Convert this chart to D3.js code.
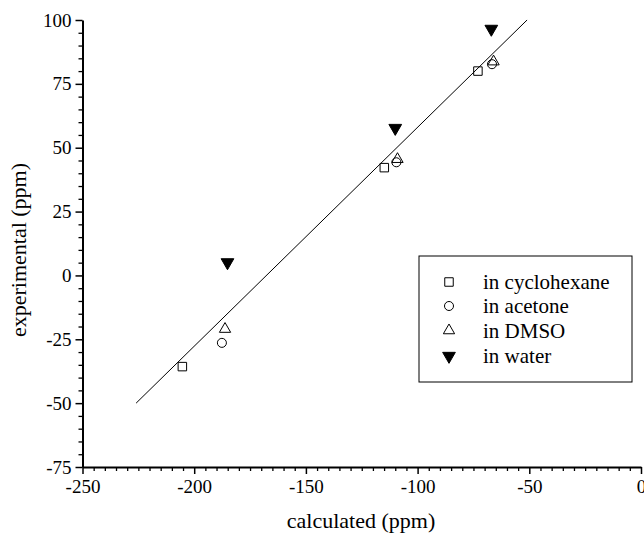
<!DOCTYPE html>
<html><head><meta charset="utf-8">
<script src="https://cdn.jsdelivr.net/npm/d3@7"></script>
<style>body{margin:0;background:#fff}svg{display:block}</style>
</head><body><svg id="c" width="644" height="535"></svg>
<script>
const xTicks = [-250, -200, -150, -100, -50, 0];
const yTicks = [-75, -50, -25, 0, 25, 50, 75, 100];
const seriesNames = ["in cyclohexane", "in acetone", "in DMSO", "in water"];
const cycloCalc = [-205.3, -114.9, -73.0];
const cycloExp = [-35.7, 42.2, 80.0];
const acetCalc = [-187.6, -109.5, -66.7];
const acetExp = [-26.4, 44.3, 82.7];
const dmsoCalc = [-186.2, -109.0, -66.0];
const dmsoExp = [-21.0, 45.5, 83.7];
const waterCalc = [-185.1, -110.0, -67.0];
const waterExp = [5.1, 57.7, 96.5];
const fitX = [-226, -51];
const fitY = [-50, 100];

const FONT = '"Liberation Serif", Tinos, "Times New Roman", "DejaVu Serif", serif';
const svg = d3.select("#c");
const x = d3.scaleLinear().domain([-250, 0]).range([82.5, 641]);
const y = d3.scaleLinear().domain([-75, 100]).range([467, 20]);

const xMinor = d3.range(-250, 0.1, 5).filter(v => v % 50 !== 0);
const yMinor = d3.range(-75, 100.1, 5).filter(v => v % 25 !== 0);
svg.append("g").attr("transform", "translate(0,467)")
  .call(d3.axisBottom(x).tickValues(xMinor).tickSize(4).tickFormat(""))
  .call(g => g.select(".domain").remove())
  .selectAll("line").attr("stroke-width", 1.3);
svg.append("g").attr("transform", "translate(82.5,0)")
  .call(d3.axisLeft(y).tickValues(yMinor).tickSize(4).tickFormat(""))
  .call(g => g.select(".domain").remove())
  .selectAll("line").attr("stroke-width", 1.3);

const fmt = d => String(d);
const gx = svg.append("g").attr("transform", "translate(0,467)")
  .call(d3.axisBottom(x).tickValues(xTicks).tickSize(7).tickSizeOuter(0).tickPadding(6).tickFormat(fmt));
gx.attr("font-family", FONT).attr("font-size", 19);
gx.select(".domain").attr("stroke-width", 2);
gx.selectAll("line").attr("stroke-width", 1.5);

const gy = svg.append("g").attr("transform", "translate(82.5,0)")
  .call(d3.axisLeft(y).tickValues(yTicks).tickSize(7).tickSizeOuter(0).tickPadding(4).tickFormat(fmt));
gy.attr("font-family", FONT).attr("font-size", 19);
gy.select(".domain").attr("stroke-width", 2);
gy.selectAll("line").attr("stroke-width", 1.5);

svg.append("line")
  .attr("x1", x(fitX[0])).attr("y1", y(fitY[0]))
  .attr("x2", x(fitX[1])).attr("y2", y(fitY[1]))
  .attr("stroke", "#000").attr("stroke-width", 1);

const sq = d3.symbol().type(d3.symbolSquare).size(72);
const ci = d3.symbol().type(d3.symbolCircle).size(64);
const tri = d3.symbol().type(d3.symbolTriangle).size(55);
const shapes = [
  {calc: cycloCalc, exp: cycloExp, path: sq(), fill: "none", rot: 0},
  {calc: acetCalc, exp: acetExp, path: ci(), fill: "none", rot: 0},
  {calc: dmsoCalc, exp: dmsoExp, path: tri(), fill: "none", rot: 0},
  {calc: waterCalc, exp: waterExp, path: d3.symbol().type(d3.symbolTriangle).size(70)(), fill: "#000", rot: 180}
];
shapes.forEach(s => {
  svg.append("g").selectAll("path").data(s.calc).join("path")
    .attr("d", s.path)
    .attr("transform", (d, i) => `translate(${x(d)},${y(s.exp[i])}) rotate(${s.rot})`)
    .attr("fill", s.fill).attr("stroke", "#000").attr("stroke-width", 1);
});

const lg = svg.append("g").attr("font-family", FONT);
lg.append("rect").attr("x", 419).attr("y", 256).attr("width", 213).attr("height", 126)
  .attr("fill", "#fff").attr("stroke", "#000").attr("stroke-width", 1);
const rowsY = [282, 306, 330.5, 356];
seriesNames.forEach((n, i) => {
  lg.append("path").attr("d", shapes[i].path)
    .attr("transform", `translate(449,${rowsY[i]}) rotate(${shapes[i].rot})`)
    .attr("fill", shapes[i].fill).attr("stroke", "#000").attr("stroke-width", 1);
  lg.append("text").attr("x", 483).attr("y", rowsY[i]).attr("dy", "0.35em")
    .attr("font-size", 21).text(n);
});

svg.append("text").attr("x", 361).attr("y", 528).attr("text-anchor", "middle")
  .attr("font-family", FONT).attr("font-size", 22).text("calculated (ppm)");
svg.append("text").attr("transform", "translate(26,250) rotate(-90)").attr("text-anchor", "middle")
  .attr("font-family", FONT).attr("font-size", 22).text("experimental (ppm)");
</script></body></html>
